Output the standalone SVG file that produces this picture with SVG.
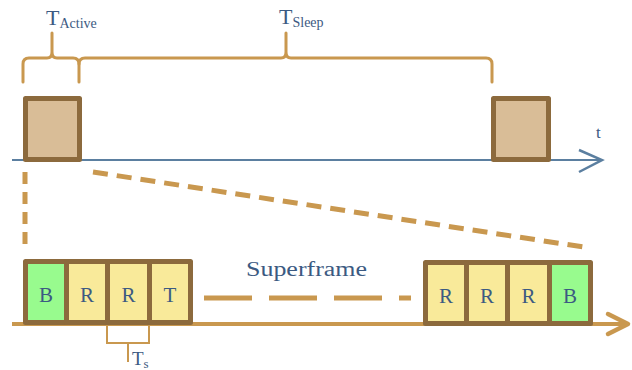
<svg xmlns="http://www.w3.org/2000/svg" width="632" height="370" viewBox="0 0 632 370">
  <style>
    .lbl { font-family: "Liberation Serif", "DejaVu Serif", serif; fill: #3c5a82; }
    .brace { fill: none; stroke: #c9984f; stroke-width: 3; stroke-linecap: round; stroke-linejoin: round; }
    .box { fill: #d9bd97; stroke: #8c6a3d; stroke-width: 5; stroke-linejoin: round; }
    .cell { stroke: #8c6a3d; stroke-width: 5; stroke-linejoin: round; }
    .beacon { fill: #98fb8e; }
    .slot { fill: #f9ea9a; }
    .dash { fill: none; stroke: #c9984f; stroke-width: 5; }
  </style>

  <!-- Top timeline -->
  <g id="top-axis">
    <line x1="12" y1="160" x2="602" y2="160" stroke="#5b7fa0" stroke-width="2"/>
    <polyline points="579,150 602,160 579,172" fill="none" stroke="#5b7fa0" stroke-width="2.5"/>
    <text class="lbl" x="596" y="138" font-size="17">t</text>
  </g>

  <!-- Braces -->
  <g id="brace-active">
    <path class="brace" d="M23,82 V64 Q23,58 29,58 H47 Q52,58 52,52 V33 M52,52 Q52,58 57,58 H73 Q79,58 79,64 V82"/>
    <text class="lbl" x="46" y="25" font-size="22">T<tspan font-size="14" dy="3">Active</tspan></text>
  </g>
  <g id="brace-sleep">
    <path class="brace" d="M79,64 Q79,58 85,58 H281 Q286,58 286,52 V33 M286,52 Q286,58 291,58 H486 Q492,58 492,64 V82"/>
    <text class="lbl" x="279" y="24" font-size="22">T<tspan font-size="14" dy="3">Sleep</tspan></text>
  </g>

  <!-- Active periods -->
  <g id="active-1"><rect class="box" x="25.5" y="98.5" width="54" height="61"/></g>
  <g id="active-2"><rect class="box" x="493.5" y="98.5" width="55" height="61"/></g>

  <!-- Zoom guides -->
  <g id="connectors">
    <line class="dash" x1="25" y1="172" x2="25" y2="248" stroke-dasharray="12 8"/>
    <line class="dash" x1="93" y1="172" x2="590" y2="248" stroke-dasharray="15 9"/>
    <line x1="204" y1="298" x2="411" y2="298" stroke="#c9984f" stroke-width="5" stroke-dasharray="48 17"/>
  </g>

  <!-- Bottom timeline -->
  <g id="bottom-axis">
    <line x1="12" y1="324" x2="628" y2="324" stroke="#c9984f" stroke-width="4"/>
    <polyline points="608,314 628,324 608,334" fill="none" stroke="#c9984f" stroke-width="4.5" stroke-linecap="round" stroke-linejoin="round"/>
  </g>

  <!-- Superframe start -->
  <g id="frame-start">
    <rect class="cell beacon" x="25.5" y="261.5" width="41" height="61"/>
    <rect class="cell slot" x="66.5" y="261.5" width="41" height="61"/>
    <rect class="cell slot" x="107.5" y="261.5" width="42" height="61"/>
    <rect class="cell slot" x="149.5" y="261.5" width="41" height="61"/>
    <g class="lbl" font-size="21" text-anchor="middle">
      <text x="46" y="302">B</text>
      <text x="87" y="302">R</text>
      <text x="128.5" y="302">R</text>
      <text x="170" y="302">T</text>
    </g>
  </g>

  <!-- Superframe end -->
  <g id="frame-end">
    <rect class="cell slot" x="425.5" y="262.5" width="41" height="61"/>
    <rect class="cell slot" x="466.5" y="262.5" width="41" height="61"/>
    <rect class="cell slot" x="507.5" y="262.5" width="42" height="61"/>
    <rect class="cell beacon" x="549.5" y="262.5" width="41" height="61"/>
    <g class="lbl" font-size="21" text-anchor="middle">
      <text x="446" y="303">R</text>
      <text x="487" y="303">R</text>
      <text x="528.5" y="303">R</text>
      <text x="570" y="303">B</text>
    </g>
  </g>

  <g id="superframe-label">
    <text class="lbl" x="246" y="276" font-size="20" textLength="121" lengthAdjust="spacingAndGlyphs">Superframe</text>
  </g>

  <!-- Slot duration -->
  <g id="slot-duration">
    <path d="M107,326 V343 H149 V326 M128,343 V362" fill="none" stroke="#c9984f" stroke-width="2"/>
    <text class="lbl" x="132" y="365" font-size="19">T<tspan font-size="13" dy="3">s</tspan></text>
  </g>
</svg>
